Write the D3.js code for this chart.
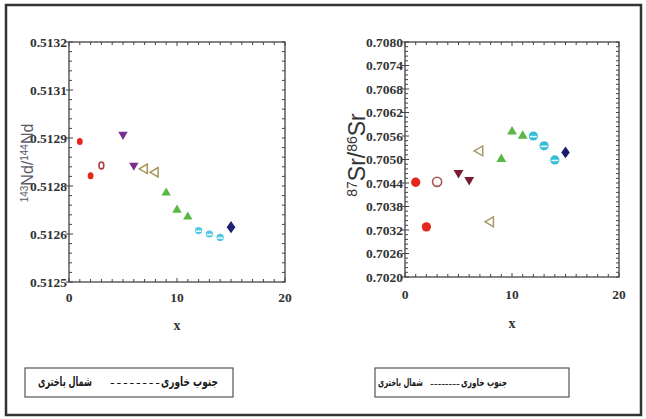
<!DOCTYPE html>
<html>
<head>
<meta charset="utf-8">
<script src="https://cdn.jsdelivr.net/npm/d3@7"></script>
<style>
  html, body { margin: 0; padding: 0; background: #fff; }
  svg { display: block; }
  .tick-label { font-family: "Liberation Serif", "Times New Roman", serif; font-weight: bold; font-size: 13.5px; fill: #333; }
</style>
</head>
<body>
<svg id="chart" width="646" height="419"></svg>
<script>
// Sample index along the traverse
const sampleX = [1, 2, 3, 5, 6, 7, 8, 9, 10, 11, 12, 13, 14, 15];
// 143Nd/144Nd ratios
const ndValues = [0.51291, 0.51281, 0.51284, 0.51293, 0.51284, 0.51283, 0.51282,
                  0.51276, 0.51271, 0.51269, 0.51265, 0.51264, 0.51263, 0.51266];
// 87Sr/86Sr ratios
const srValues = [0.70442, 0.70328, 0.70443, 0.70466, 0.70448, 0.70522, 0.70341,
                  0.70501, 0.70571, 0.70560, 0.70560, 0.70535, 0.70499, 0.70518];
// Marker family for each sample
const markerKinds = ["dot", "dot", "ring", "down", "down", "left", "left",
                     "up", "up", "up", "band", "band", "band", "diamond"];

const xDomain = [0, 20];
const xTickLabels = [0, 10, 20];
const ndDomain = [0.5125, 0.5132];
const ndTicks = [0.5125, 0.51264, 0.51278, 0.51292, 0.51306, 0.5132];
const srDomain = [0.7020, 0.7080];
const srTicks = [0.7020, 0.7026, 0.7032, 0.7038, 0.7044, 0.7050, 0.7056, 0.7062, 0.7068, 0.7074, 0.7080];

// legend wording: southeast (right end) ---- northwest (left end)
const legendEast = "جنوب خاوری";
const legendWest = "شمال باختری";
const legendDash = "--------";

const svg = d3.select("#chart");

// outer frame
svg.append("rect")
  .attr("x", 6).attr("y", 5).attr("width", 635).attr("height", 410)
  .attr("fill", "none").attr("stroke", "#333").attr("stroke-width", 2.5);

function drawPanel(opt) {
  const g = svg.append("g");
  const x = d3.scaleLinear().domain(xDomain).range([opt.left, opt.right]);
  const y = d3.scaleLinear().domain(opt.yDomain).range([opt.bottom, opt.top]);
  const axisColor = "#444";

  // minor ticks: x every 1 unit, y five per major interval
  const xMinor = d3.range(xDomain[0], xDomain[1] + 0.001, 1);
  const yMinor = [];
  for (let i = 0; i < opt.yTicks.length - 1; i++) {
    const a = opt.yTicks[i], b = opt.yTicks[i + 1];
    for (let k = 1; k < 5; k++) yMinor.push(a + (b - a) * k / 5);
  }

  const tickLines = g.append("g").attr("stroke", axisColor).attr("stroke-width", 1);
  // left axis: majors cross the line, minors point inward
  opt.yTicks.forEach(v => {
    tickLines.append("line").attr("x1", opt.left - 3).attr("x2", opt.left + 4)
      .attr("y1", y(v)).attr("y2", y(v));
  });
  yMinor.forEach(v => {
    tickLines.append("line").attr("x1", opt.left).attr("x2", opt.left + 3)
      .attr("y1", y(v)).attr("y2", y(v));
  });
  // right axis ticks point inward
  opt.yTicks.concat(yMinor).forEach(v => {
    tickLines.append("line").attr("x1", opt.right).attr("x2", opt.right - 3)
      .attr("y1", y(v)).attr("y2", y(v));
  });
  // top and bottom axis ticks point inward
  xMinor.forEach(v => {
    const len = (v % 10 === 0) ? 4 : 3;
    tickLines.append("line").attr("x1", x(v)).attr("x2", x(v))
      .attr("y1", opt.top).attr("y2", opt.top + len);
    tickLines.append("line").attr("x1", x(v)).attr("x2", x(v))
      .attr("y1", opt.bottom).attr("y2", opt.bottom - len);
  });

  // plot box
  g.append("rect")
    .attr("x", opt.left).attr("y", opt.top)
    .attr("width", opt.right - opt.left).attr("height", opt.bottom - opt.top)
    .attr("fill", "none").attr("stroke", axisColor).attr("stroke-width", 1.3);

  // y tick labels
  const fmt = d3.format(".4f");
  g.selectAll(".ylab").data(opt.yTicks).join("text")
    .attr("class", "tick-label")
    .attr("x", opt.left - 2).attr("y", d => y(d)).attr("dy", "0.35em")
    .attr("text-anchor", "end")
    .text(d => fmt(d));

  // x tick labels
  g.selectAll(".xlab").data(xTickLabels).join("text")
    .attr("class", "tick-label")
    .attr("x", d => x(d)).attr("y", opt.bottom + opt.xLabelGap)
    .attr("text-anchor", "middle")
    .text(d => d);

  // x title
  g.append("text").attr("class", "tick-label")
    .attr("x", (opt.left + opt.right) / 2).attr("y", opt.xTitleY)
    .attr("text-anchor", "middle").style("font-size", "14px")
    .text("x");

  // markers
  const pts = g.append("g");
  sampleX.forEach((sx, i) => {
    const cx = x(sx), cy = y(opt.values[i]);
    const kind = markerKinds[i];
    const c = opt.colors[kind];
    const s = opt.scale;
    if (kind === "dot") {
      pts.append("ellipse").attr("cx", cx).attr("cy", cy)
        .attr("rx", 2.9 * s.dotX).attr("ry", 3.5 * s.dotY).attr("fill", c);
    } else if (kind === "ring") {
      pts.append("ellipse").attr("cx", cx).attr("cy", cy)
        .attr("rx", 2.4 * s.ringX).attr("ry", 3.4 * s.ringY)
        .attr("fill", "none").attr("stroke", c).attr("stroke-width", 1.6);
    } else if (kind === "down" || kind === "up" || kind === "left") {
      const rot = kind === "down" ? 180 : kind === "left" ? -90 : 0;
      const p = pts.append("path")
        .attr("d", d3.symbol().type(d3.symbolTriangle).size(s.tri)())
        .attr("transform", `translate(${cx},${cy}) rotate(${rot})`);
      if (kind === "left") p.attr("fill", "none").attr("stroke", c).attr("stroke-width", 1.5);
      else p.attr("fill", c);
    } else if (kind === "band") {
      pts.append("circle").attr("cx", cx).attr("cy", cy).attr("r", s.band).attr("fill", c);
      pts.append("line").attr("x1", cx - s.band * 0.75).attr("x2", cx + s.band * 0.75)
        .attr("y1", cy + 0.6).attr("y2", cy + 0.6)
        .attr("stroke", "#e8fbff").attr("stroke-width", 1.6);
    } else if (kind === "diamond") {
      pts.append("path")
        .attr("d", d3.symbol().type(d3.symbolDiamond).size(s.diamond)())
        .attr("transform", `translate(${cx},${cy}) scale(1.25,1)`)
        .attr("fill", c);
    }
  });
  return g;
}

drawPanel({
  left: 69, right: 285, top: 42, bottom: 282,
  yDomain: ndDomain, yTicks: ndTicks, values: ndValues,
  xLabelGap: 20, xTitleY: 330,
  colors: { dot: "#e5261d", ring: "#a9433a", down: "#77308f", left: "#a8925a",
            up: "#58b843", band: "#4fc8de", diamond: "#1d2272" },
  scale: { dotX: 1, dotY: 1, ringX: 1, ringY: 1, tri: 38, band: 3.6, diamond: 42 }
});

drawPanel({
  left: 405, right: 619, top: 42, bottom: 277,
  yDomain: srDomain, yTicks: srTicks, values: srValues,
  xLabelGap: 22, xTitleY: 328,
  colors: { dot: "#e5261d", ring: "#a85a4c", down: "#781a32", left: "#a89a6a",
            up: "#58b843", band: "#38bcd5", diamond: "#1b1b6c" },
  scale: { dotX: 1.6, dotY: 1.35, ringX: 1.9, ringY: 1.35, tri: 42, band: 4.6, diamond: 40 }
});

// y-axis titles
const ndTitle = svg.append("text")
  .attr("transform", "translate(33,163) rotate(-90)")
  .attr("text-anchor", "middle")
  .style("font-family", "'Liberation Sans', Arial, sans-serif")
  .style("font-size", "16px").style("fill", "#5a5a6a");
ndTitle.append("tspan").attr("font-size", "10px").attr("baseline-shift", "super").text("143");
ndTitle.append("tspan").text("Nd/");
ndTitle.append("tspan").attr("font-size", "10px").attr("baseline-shift", "super").text("144");
ndTitle.append("tspan").text("Nd");

const srTitle = svg.append("text")
  .attr("transform", "translate(365,155) rotate(-90)")
  .attr("text-anchor", "middle")
  .style("font-family", "'Liberation Sans', Arial, sans-serif")
  .style("font-size", "23px").style("fill", "#333");
srTitle.append("tspan").attr("font-size", "14px").attr("baseline-shift", "super").text("87");
srTitle.append("tspan").text("Sr/");
srTitle.append("tspan").attr("font-size", "14px").attr("baseline-shift", "super").text("86");
srTitle.append("tspan").text("Sr");

// legend boxes: west label at left, dashes, east label at right
const legends = [
  { x: 25, w: 208, size: 13, west: [38, 92], dash: [110, 160], east: [161, 218] },
  { x: 375, w: 194, size: 11, west: [378, 423], dash: [430, 460], east: [461, 507] }
];
const legendFont = "'DejaVu Sans', sans-serif";
// place a label between x0 and x1, squeezing it horizontally to fit
function fitText(str, x0, x1, baseline, size) {
  const t = svg.append("text")
    .attr("direction", "rtl")
    .attr("text-anchor", "middle")
    .style("font-family", legendFont).style("font-size", size + "px")
    .style("font-weight", "bold")
    .style("fill", "#1a1a1a").text(str);
  const w = t.node().getComputedTextLength();
  const k = Math.min(1, (x1 - x0) / w);
  t.attr("transform", `translate(${(x0 + x1) / 2},${baseline}) scale(${k},1)`);
}
legends.forEach(l => {
  svg.append("rect").attr("x", l.x).attr("y", 368).attr("width", l.w).attr("height", 29)
    .attr("fill", "none").attr("stroke", "#555").attr("stroke-width", 1.2);
  fitText(legendEast, l.east[0], l.east[1], 386, l.size);
  fitText(legendWest, l.west[0], l.west[1], 386, l.size);
  svg.append("text")
    .attr("x", l.dash[0]).attr("y", 387)
    .attr("textLength", l.dash[1] - l.dash[0]).attr("lengthAdjust", "spacing")
    .style("font-family", legendFont).style("font-size", l.size + "px")
    .style("fill", "#1a1a1a").text(legendDash);
});
</script>
</body>
</html>
